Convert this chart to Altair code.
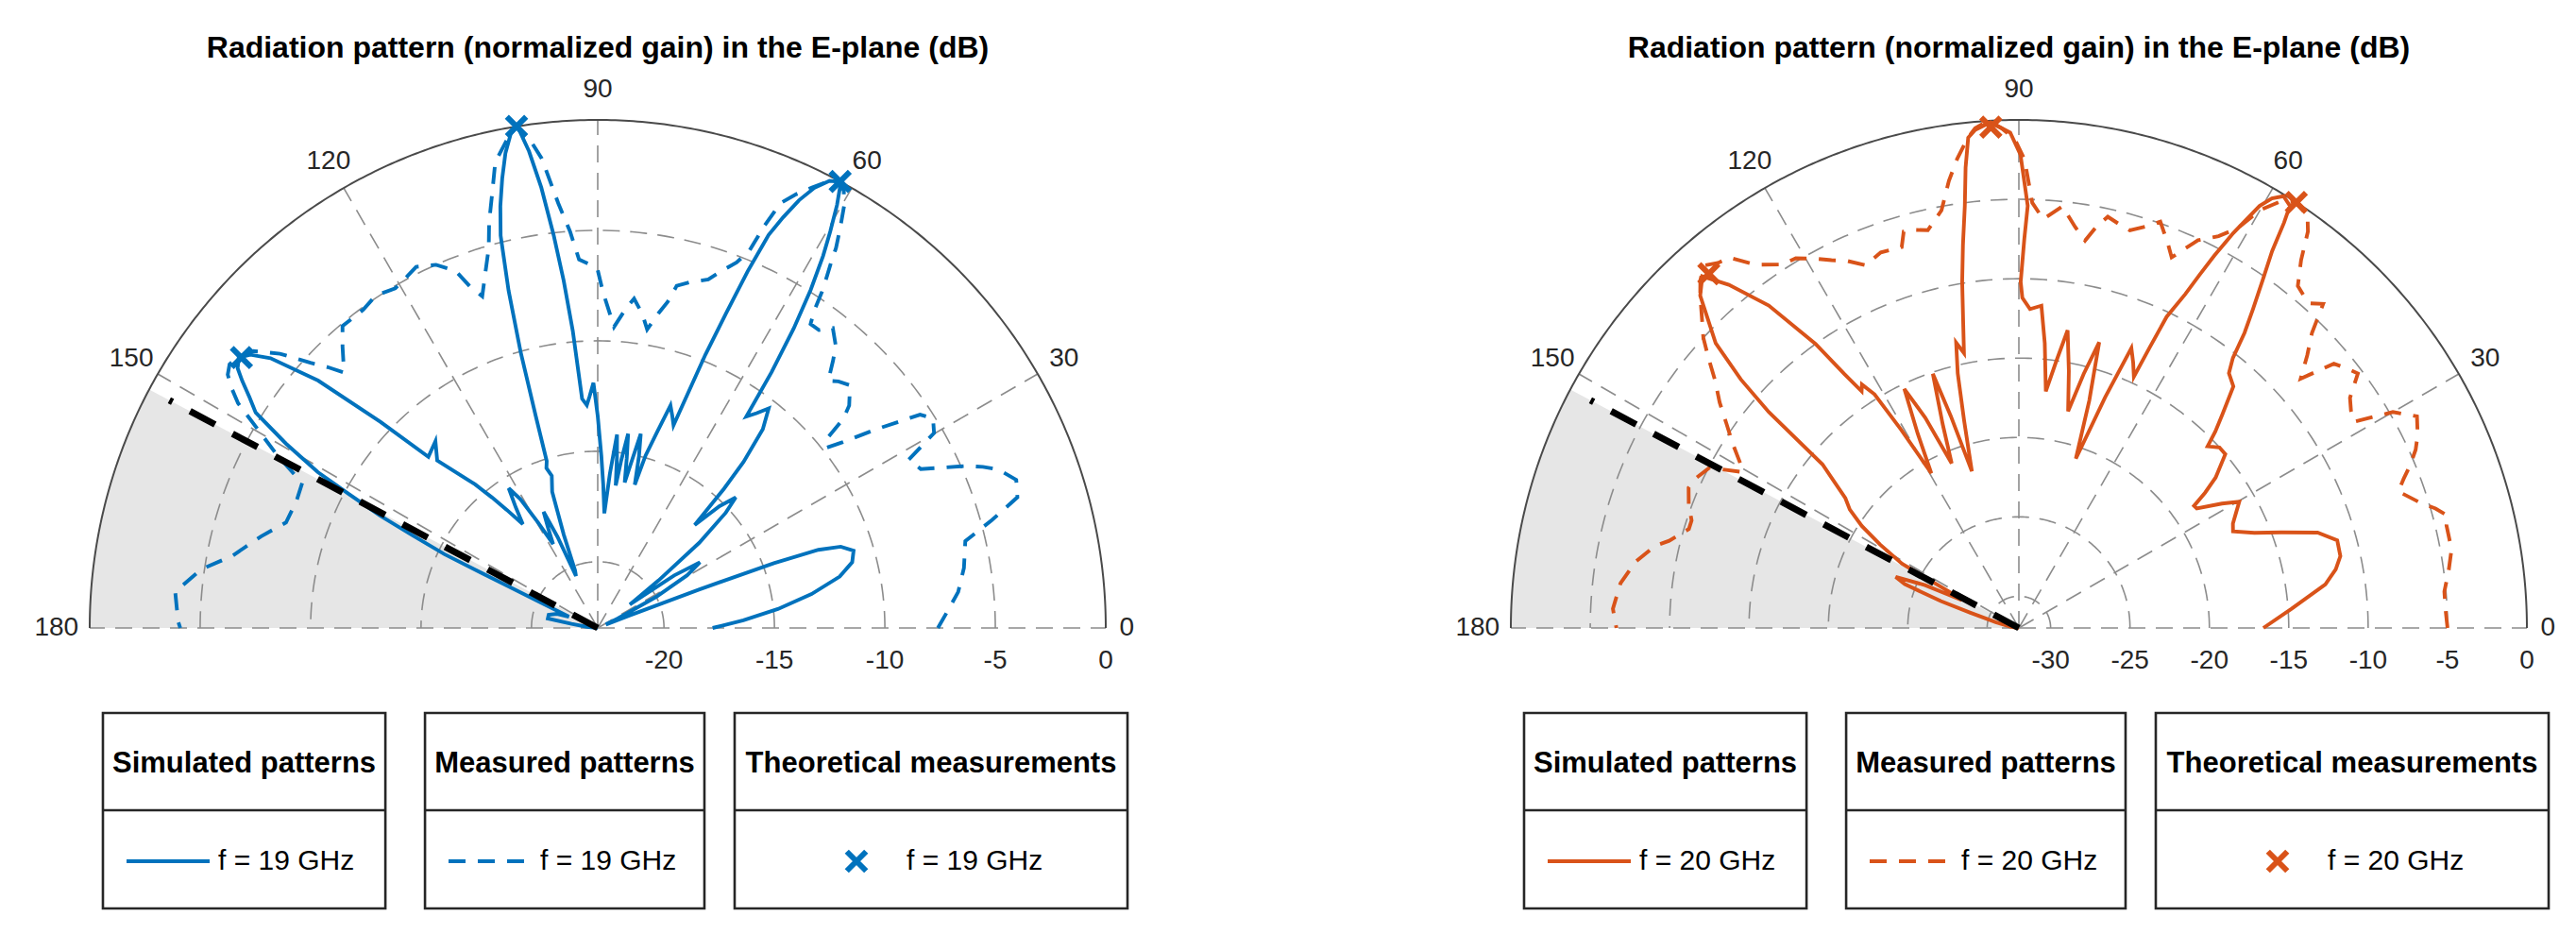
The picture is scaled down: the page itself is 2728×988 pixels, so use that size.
import altair as alt
import pandas as pd

# ---------------- values ----------------
TITLE = "Radiation pattern (normalized gain) in the E-plane (dB)"
ANGLE_TICKS = [0, 30, 60, 90, 120, 150, 180]
SHADE_FROM = 152          # start angle of the shaded sector / black dashed line (deg)

# left panel : f = 19 GHz
L_RMIN = -23
L_RTICKS = [-20, -15, -10, -5, 0]
L_SIM_THETA = [0, 3, 6, 9, 12, 14.5, 16.8, 18.5, 19.5, 20.2, 20.8, 21.6, 23, 25.5, 28, 30.5, 32.7, 34.5, 36.2, 38,
               40, 42, 43.4, 45, 46.7, 47.8, 48.7, 50.3, 52.1, 53.5, 54.9, 55.8, 56.8, 57.8, 58.8, 59.6, 60.5, 61.4,
               62.6, 63.8, 64.8, 65.7, 66.5, 67.2, 67.8, 68.5, 69.5, 70.7, 71.9, 73.2, 74.5, 75.5, 76.5, 77.5, 78.5,
               79.5, 80.3, 81.1, 82, 82.8, 83.6, 84.3, 85.5, 86.7, 87.8, 88.8, 90, 91, 92, 92.8, 93.9, 94.8, 95.6,
               96.4, 97.3, 98.2, 99.1, 100, 101, 102, 103, 103.9, 104.8, 105.6, 106.3, 107, 107.8, 106.8, 108.5, 110,
               111.5, 112.7, 113.8, 115, 116.5, 118, 119.5, 121, 122.5, 124.2, 125.8, 127.6, 129, 130.5, 133.8, 131,
               134.7, 136.5, 138.5, 140.5, 141.8, 143, 144.2, 145.2, 146.5, 147.8, 149.4, 150.9, 151.7, 152.7, 153.4,
               154.3, 154.6, 155, 155.8, 158.5, 160.8, 165, 169.3, 171, 174, 180]
L_SIM_DB = [-17.8, -16.4, -14.8, -13.2, -11.8, -11.1, -10.9, -11.4, -12.4, -14.5, -18.1, -21.5, -22.6, -22, -20,
            -18.3, -17.5, -18.8, -21.2, -19.5, -17, -15.2, -14.4, -15.2, -16.6, -14.5, -13.0, -11.3, -10.4, -10.9,
            -11.3, -9, -6.8, -4.9, -3.3, -2.2, -1.0, 0, -0.2, -0.8, -1.6, -2.6, -3.6, -5.5, -7.6, -9.7, -13.2, -12.8,
            -12.4, -13.8, -14.9, -16.3, -15.0, -14.0, -15.3, -16.3, -15.2, -14.1, -15.3, -16.5, -15.2, -14.2, -16.0,
            -17.8, -16.5, -15.2, -13.4, -11.9, -12.5, -12.9, -12.6, -9.5, -7.2, -5.1, -2.9, -1.2, 0, -0.3, -1.1, -2.2,
            -3.4, -4.7, -7.2, -10, -13, -15.1, -15.4, -15.8, -16.5, -18.5, -20.2, -20.45, -18.5, -17.2, -18, -18.7,
            -17.5, -16.2, -15.5, -16.4, -17.2, -16.25, -15.4, -14.45, -12.5, -11.8, -12.1, -9.45, -6.1, -3.8, -3.0,
            -2.65, -2.9, -3.4, -4.1, -4.7, -6.6, -8.5, -10.2, -11.9, -13.6, -15.3, -16.85, -18.45, -20.0, -21.6,
            -21.05, -20.7, -20.7, -21.8, -22.5, -23]
L_MEAS_THETA = [0, 3, 5.7, 9.3, 13.3, 15.3, 17.3, 19.5, 21.6, 22.7, 23.7, 26.2, 28.4, 30.1, 32, 33.5, 35.5, 37.2,
                38.2, 39.6, 40.4, 41.5, 43.9, 45.7, 47, 48.6, 49.8, 51.9, 53.4, 55, 55.7, 56.3, 56.9, 57.5, 57.9, 58.8,
                59.7, 60.6, 61.6, 62.6, 64, 65.4, 66.7, 67.5, 68.1, 69.2, 70.9, 72.4, 75.1, 77, 77.9, 79.1, 80.6,
                81.9, 83.7, 84.9, 86.9, 88.3, 89.1, 90, 91.5, 92.9, 94, 95.3, 96.8, 98, 99.2, 100.5, 102.4, 103.5, 105,
                106, 107.5, 109.2, 110.5, 111.7, 114, 116.7, 118.5, 120.8, 123.7, 126.4, 130.2, 132.2, 134.8, 136,
                137.3, 139.2, 141.2, 143, 144.4, 145.6, 146.8, 148, 149.6, 151.5, 153.9, 157.2, 161.3, 164.8, 168.8,
                171.6, 175.1, 179.1, 180]
L_MEAS_DB = [-7.6, -7.1, -6.6, -6.2, -5.9, -4.5, -3.1, -2.9, -3.5, -4.1, -4.75, -6.7, -7.0, -5.4, -5.1, -5.5, -7.5,
             -9.1, -9.8, -9.5, -8.4, -7.8, -7.15, -7.4, -7.7, -6.9, -6.3, -5.75, -6.2, -6.2, -5.6, -4.7, -4.0, -3.3,
             -2.7, -1.8, -0.9, -0.3, 0, -0.2, -0.8, -1.4, -2.05, -3.3, -4.6, -5.3, -5.9, -6.45, -6.8, -7.1, -7.9,
             -8.5, -9.3, -8.65, -8.0, -8.45, -9.35, -8.4, -7.8, -6.8, -6.5, -6.3, -5.0, -3.7, -1.6, -0.6, 0, -0.5,
             -1.4, -2.6, -4.0, -5.1, -6.1, -7.1, -6.5, -5.6, -5.0, -4.7, -4.9, -5.1, -4.9, -5.1, -5.1, -5.8, -6.7,
             -6.0, -5.3, -4.0, -3.0, -2.6, -2.5, -2.7, -3.2, -3.8, -5.1, -6.4, -8.1, -8.2, -8.1, -7.2, -6.15, -4.85,
             -3.8, -4.0, -4.1]
L_THEO_THETA = [61.5, 99.2, 142.8]
L_THEO_DB = [0, 0, -2.75]

# right panel : f = 20 GHz
R_RMIN = -32
R_RTICKS = [-30, -25, -20, -15, -10, -5, 0]
R_SIM_THETA = [0, 4, 8.1, 10.5, 12.6, 15.4, 17.7, 20, 22, 24.3, 26, 28, 29.8, 31.5, 33.9, 34.9, 36, 37.4, 40.1, 42,
               43.9, 45, 46.4, 48.4, 50.5, 51.6, 52.6, 53.7, 55, 56.1, 56.8, 57.3, 58.5, 59.5, 60.3, 61.5, 62.3, 62.9,
               63.5, 64.6, 65, 65.4, 66.7, 68.1, 69.5, 71.4, 72.8, 74.3, 75.7, 77.2, 79, 80.7, 82, 83.5, 84.8, 86, 88,
               89.4, 89.7, 89.2, 88.8, 89.8, 91, 93.2, 95, 95.9, 96.6, 97.3, 98.3, 99.3, 100.5, 101.3, 102.4, 103.5,
               104.8, 106.7, 107.8, 108.7, 110.5, 112.2, 114, 115.6, 117.5, 119.5, 120.7, 121.7, 122.8, 123.6, 124.5,
               125.6, 127.8, 130.2, 132, 133.8, 136.8, 138.2, 139.2, 140.2, 143.2, 145, 147, 149, 151.2, 152.5, 154,
               155.5, 157.5, 159, 161, 162.5, 166, 172, 180]
R_SIM_DB = [-16.6, -14.8, -12.5, -11.7, -11.25, -11.2, -12.25, -14.4, -16.0, -17.2, -17.0, -16.5, -16.0, -17.0,
            -18.5, -18.55, -17.5, -16.4, -15.0, -15.0, -15.5, -14.5, -13.4, -11.65, -11.2, -10.3, -8.6, -7.1, -5.2,
            -3.4, -1.5, -0.4, -0.1, -0.6, -1.4, -3.7, -5.5, -7.0, -8.5, -10.3, -12.5, -14.6, -13.8, -13.0, -16.5,
            -20.75, -17, -13.3, -15.5, -18.0, -15.5, -13.0, -15, -17.0, -14, -11.65, -11.9, -11.2, -10.2, -7.5, -5.4,
            -2.2, -0.8, -0.1, -0.5, -0.95, -2.8, -5.2, -7.6, -9.9, -12.8, -14.35, -13.6, -15.5, -18.5, -21.7, -18,
            -15.1, -18.3, -20.8, -17.5, -15.3, -18.2, -20.8, -17.5, -14.7, -13.75, -14.1, -12.6, -10, -6.3, -3.7,
            -2.2, -3.0, -5.8, -8.5, -11.2, -15.9, -18.35, -19, -20.2, -21.8, -23.6, -27, -28, -25.5, -23.6, -24.3,
            -26.8, -28.8, -30.5, -31.5, -32]
R_MEAS_THETA = [0, 2.5, 4.9, 7.5, 10.3, 13.5, 14.7, 16, 17.3, 19.8, 21.2, 22.6, 24.2, 25.8, 28, 30, 31.6, 33.2, 34.8,
                36.9, 38.5, 40, 41.5, 43.4, 45.2, 46.8, 48.3, 50.8, 52.5, 53.9, 55, 57, 58.5, 60, 61.3, 63, 65.2, 67.6,
                68.7, 70.8, 72.5, 74.4, 76, 77.8, 79, 80.3, 82, 84.1, 86.6, 88.2, 89.3, 90.5, 92, 93.5, 95, 96, 97.5,
                98.9, 100.5, 102.9, 104.5, 106.2, 107.1, 110.2, 112.9, 115, 117, 119, 121.1, 123, 125.9, 128, 129.5,
                131, 132.5, 133.8, 135.5, 137.4, 139, 140.8, 143, 145, 147.3, 149.6, 150.6, 152.6, 155, 157, 159.5,
                161.8, 163.3, 166, 167.3, 170.2, 173.6, 177.3, 180]
R_MEAS_DB = [-5.0, -5.1, -5.1, -4.7, -4.3, -4.3, -4.1, -4.7, -5.5, -6.6, -6.0, -5.3, -4.6, -4.1, -3.6, -4.8, -7.2,
             -7.0, -6.6, -5.3, -5.7, -6.1, -8.3, -7.0, -5.8, -4.0, -4.6, -4.2, -2.8, -1.1, -0.3, 0, -0.5, -1.6, -3.3,
             -4.3, -5.1, -6.75, -6.1, -4.9, -5.5, -6.0, -5.8, -5.5, -6.2, -7.25, -6.5, -5.3, -6.2, -5.2, -2.5, -1.2,
             -0.5, 0, -0.4, -1.0, -2.2, -3.5, -5.25, -6.3, -6.1, -6.0, -6.9, -6.8, -7.2, -6.5, -6.0, -5.4, -4.8,
             -4.7, -3.75, -2.4, -2.2, -1.75, -2.3, -3.0, -4.0, -5.0, -6.1, -7.3, -8.4, -9.5, -10.6, -11.7, -12.0,
             -10.05, -9.6, -9.4, -9.8, -10.3, -10.3, -9.3, -8.5, -7.5, -6.75, -6.4, -6.65]
R_THEO_THETA = [56.9, 93.2, 131.2]
R_THEO_DB = [0, -0.4, -2.35]

LEGEND_HEADERS = ["Simulated patterns", "Measured patterns", "Theoretical measurements"]

# ---------------- layout / style ----------------
R_PX = 538.0                      # outer radius in px
PANEL_W, PANEL_H = 1207, 972
CX, CY = 625.0, 657.0             # polar centre inside a panel (px)
GAP = 298
XS = alt.Scale(domain=[-CX / R_PX, (PANEL_W - CX) / R_PX], nice=False, zero=False)
YS = alt.Scale(domain=[-(PANEL_H - CY) / R_PX, CY / R_PX], nice=False, zero=False)
FONT = "Liberation Sans"
GRID = "#8c8c8c"
TXT = "#262626"
LW = 3.9

TITLE_Y = (CY - 43) / R_PX
RTICK_Y = (CY - 692) / R_PX
BOX_TOP, BOX_MID, BOX_BOT = (CY - 747) / R_PX, (CY - 850) / R_PX, (CY - 954) / R_PX
HEAD_Y, ENTRY_Y = (CY - 801) / R_PX, (CY - 904) / R_PX
BOX_X = [(-0.974, -0.418), (-0.340, 0.210), (0.2695, 1.0428)]


def enc(xf, yf):
    return dict(x=alt.X(f"{xf}:Q", scale=XS, axis=None), y=alt.Y(f"{yf}:Q", scale=YS, axis=None))


def polar(chart, rmin):
    return chart.transform_calculate(
        u=f"(datum.db - ({rmin})) / ({-rmin})"
    ).transform_calculate(
        px="datum.u * cos(datum.theta * PI / 180)",
        py="datum.u * sin(datum.theta * PI / 180)",
    )


def panel(sim_t, sim_db, meas_t, meas_db, theo_t, theo_db, rmin, rticks, color, flabel):
    rng = -rmin
    layers = []

    # shaded sector
    wedge = pd.DataFrame({"theta": [SHADE_FROM] + list(range(SHADE_FROM, 181)),
                          "db": [rmin] + [0] * (181 - SHADE_FROM)})
    layers.append(polar(alt.Chart(wedge), rmin).mark_area(color="#e6e6e6").encode(
        **enc("px", "py"), y2=alt.datum(0)))

    # rings
    rows = []
    for v in rticks[:-1]:
        for a in range(0, 181):
            rows.append({"ring": v, "theta": a, "db": v})
    layers.append(polar(alt.Chart(pd.DataFrame(rows)), rmin).mark_line(
        color=GRID, strokeWidth=1.6, strokeDash=[18, 11]).encode(
        **enc("px", "py"), detail="ring:N", order="theta:Q"))

    # spokes
    rows = []
    for a in ANGLE_TICKS:
        rows.append({"sp": a, "theta": a, "db": rmin, "k": 0})
        rows.append({"sp": a, "theta": a, "db": 0, "k": 1})
    layers.append(polar(alt.Chart(pd.DataFrame(rows)), rmin).mark_line(
        color=GRID, strokeWidth=1.6, strokeDash=[18, 11]).encode(
        **enc("px", "py"), detail="sp:N", order="k:Q"))

    # outer arc
    arc = pd.DataFrame({"theta": [a / 2 for a in range(0, 361)], "db": 0})
    layers.append(polar(alt.Chart(arc), rmin).mark_line(color="#4a4a4a", strokeWidth=2).encode(
        **enc("px", "py"), order="theta:Q"))

    # angle labels
    mid = pd.DataFrame({"theta": ANGLE_TICKS[1:-1], "db": rmin + 1.06 * rng,
                        "t": [str(a) for a in ANGLE_TICKS[1:-1]]})
    layers.append(polar(alt.Chart(mid), rmin).mark_text(
        font=FONT, fontSize=28, color=TXT, align="center", baseline="middle").encode(
        **enc("px", "py"), text="t:N"))
    zero = pd.DataFrame({"theta": [0], "db": [rmin + 1.027 * rng], "t": ["0"]})
    layers.append(polar(alt.Chart(zero), rmin).mark_text(
        font=FONT, fontSize=28, color=TXT, align="left", baseline="middle").encode(
        **enc("px", "py"), text="t:N"))
    e180 = pd.DataFrame({"theta": [180], "db": [rmin + 1.022 * rng], "t": ["180"]})
    layers.append(polar(alt.Chart(e180), rmin).mark_text(
        font=FONT, fontSize=28, color=TXT, align="right", baseline="middle").encode(
        **enc("px", "py"), text="t:N"))

    # radial tick labels
    rt = pd.DataFrame({"theta": 0, "db": rticks, "ly": RTICK_Y, "t": [str(v) for v in rticks]})
    layers.append(polar(alt.Chart(rt), rmin).mark_text(
        font=FONT, fontSize=28, color=TXT, align="center", baseline="middle").encode(
        **enc("px", "ly"), text="t:N"))

    # simulated
    sim = pd.DataFrame({"theta": sim_t, "db": sim_db, "i": range(len(sim_t))})
    layers.append(polar(alt.Chart(sim), rmin).mark_line(color=color, strokeWidth=LW).encode(
        **enc("px", "py"), order="i:Q"))
    # measured
    meas = pd.DataFrame({"theta": meas_t, "db": meas_db, "i": range(len(meas_t))})
    layers.append(polar(alt.Chart(meas), rmin).mark_line(
        color=color, strokeWidth=LW, strokeDash=[18, 13]).encode(
        **enc("px", "py"), order="i:Q"))

    # black dashed boundary
    bl = pd.DataFrame({"theta": [SHADE_FROM, SHADE_FROM], "db": [rmin, rmin + 0.955 * rng], "k": [0, 1]})
    layers.append(polar(alt.Chart(bl), rmin).mark_line(
        color="black", strokeWidth=7, strokeDash=[30, 21]).encode(
        **enc("px", "py"), order="k:Q"))

    # theoretical markers
    xshape = "M -1 -1 L 1 1 M -1 1 L 1 -1"
    theo = pd.DataFrame({"theta": theo_t, "db": theo_db})
    layers.append(polar(alt.Chart(theo), rmin).mark_point(
        shape=xshape, size=420, strokeWidth=6, filled=False, color=color, opacity=1).encode(
        **enc("px", "py")))

    # title
    tdf = pd.DataFrame({"x": [0.0], "y": [TITLE_Y], "t": [TITLE]})
    layers.append(alt.Chart(tdf).mark_text(
        font=FONT, fontSize=32, fontWeight="bold", color="black", align="center", baseline="middle").encode(
        **enc("x", "y"), text="t:N"))

    # legend boxes
    boxes = pd.DataFrame({"x": [b[0] for b in BOX_X], "x2": [b[1] for b in BOX_X],
                          "y": BOX_TOP, "y2": BOX_BOT, "ym": BOX_MID})
    layers.append(alt.Chart(boxes).mark_rect(fill="white", stroke="#262626", strokeWidth=2.6).encode(
        **enc("x", "y"), x2="x2:Q", y2="y2:Q"))
    layers.append(alt.Chart(boxes).mark_rule(color="#262626", strokeWidth=2.6).encode(
        x=alt.X("x:Q", scale=XS, axis=None), x2="x2:Q", y=alt.Y("ym:Q", scale=YS, axis=None)))
    heads = pd.DataFrame({"x": [(b[0] + b[1]) / 2 for b in BOX_X], "y": HEAD_Y, "t": LEGEND_HEADERS})
    layers.append(alt.Chart(heads).mark_text(
        font=FONT, fontSize=31, fontWeight="bold", color="black", align="center", baseline="middle").encode(
        **enc("x", "y"), text="t:N"))

    # legend samples
    s1 = pd.DataFrame({"x": [-0.9275, -0.7639], "y": ENTRY_Y, "k": [0, 1]})
    layers.append(alt.Chart(s1).mark_line(color=color, strokeWidth=LW).encode(**enc("x", "y"), order="k:Q"))
    s2 = pd.DataFrame({"x": [-0.2937, -0.1283], "y": ENTRY_Y, "k": [0, 1]})
    layers.append(alt.Chart(s2).mark_line(color=color, strokeWidth=LW, strokeDash=[18, 13]).encode(
        **enc("x", "y"), order="k:Q"))
    s3 = pd.DataFrame({"x": [0.5093], "y": [ENTRY_Y]})
    layers.append(alt.Chart(s3).mark_point(
        shape=xshape, size=420, strokeWidth=6, filled=False, color=color, opacity=1).encode(**enc("x", "y")))
    ents = pd.DataFrame({"x": [-0.7472, -0.1134, 0.6078], "y": ENTRY_Y, "t": [flabel] * 3})
    layers.append(alt.Chart(ents).mark_text(
        font=FONT, fontSize=30, color="black", align="left", baseline="middle").encode(
        **enc("x", "y"), text="t:N"))

    return alt.layer(*layers).properties(width=PANEL_W, height=PANEL_H)


left = panel(L_SIM_THETA, L_SIM_DB, L_MEAS_THETA, L_MEAS_DB, L_THEO_THETA, L_THEO_DB,
             L_RMIN, L_RTICKS, "#0072BD", "f = 19 GHz")
right = panel(R_SIM_THETA, R_SIM_DB, R_MEAS_THETA, R_MEAS_DB, R_THEO_THETA, R_THEO_DB,
              R_RMIN, R_RTICKS, "#D95319", "f = 20 GHz")

chart = alt.hconcat(left, right, spacing=GAP, bounds="flush").configure_view(
    stroke=None).properties(padding=0, background="white")

chart.save("out.html", embed_options={"renderer": "svg", "actions": False})
